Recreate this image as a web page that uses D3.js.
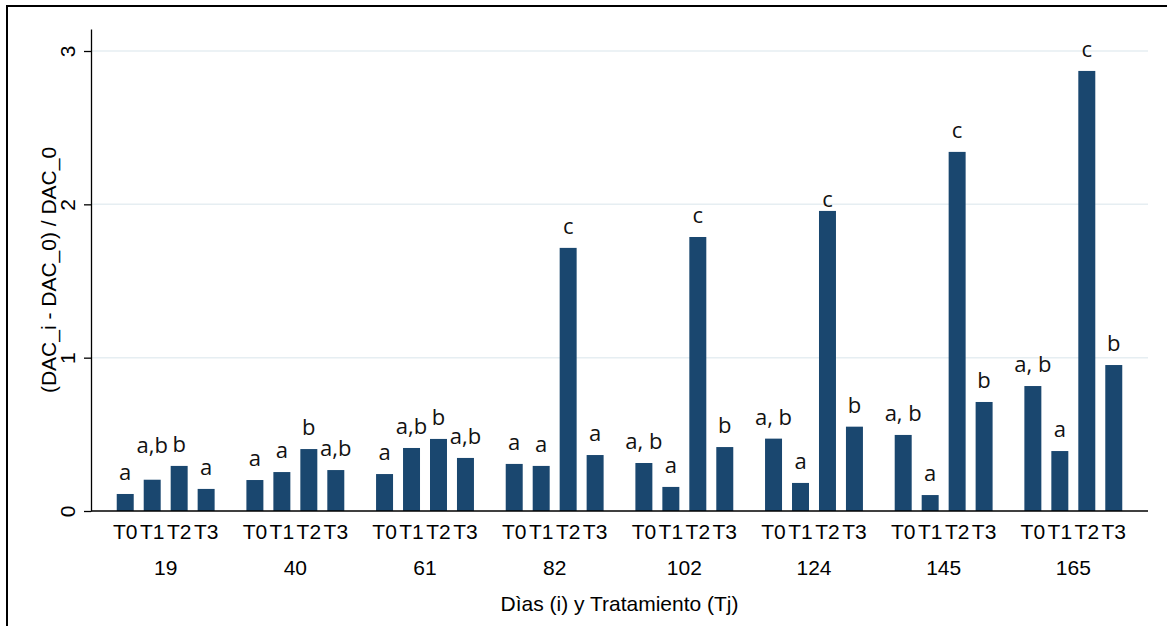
<!DOCTYPE html>
<html>
<head>
<meta charset="utf-8">
<script src="https://cdn.jsdelivr.net/npm/d3@7"></script>
<style>
  html, body { margin: 0; padding: 0; background: #ffffff; }
  svg { display: block; }
</style>
</head>
<body>
<svg id="chart" width="1167" height="626"></svg>
<script>
// ---- data ----
const days = ["19", "40", "61", "82", "102", "124", "145", "165"];
const treatments = ["T0", "T1", "T2", "T3"];
const valuesT0 = [0.111, 0.202, 0.241, 0.307, 0.313, 0.472, 0.496, 0.815];
const valuesT1 = [0.204, 0.254, 0.411, 0.294, 0.157, 0.183, 0.104, 0.391];
const valuesT2 = [0.294, 0.404, 0.470, 1.716, 1.787, 1.957, 2.342, 2.870];
const valuesT3 = [0.144, 0.267, 0.346, 0.365, 0.417, 0.550, 0.711, 0.952];
const lettersT0 = ["a", "a", "a", "a", "a, b", "a, b", "a, b", "a, b"];
const lettersT1 = ["a,b", "a", "a,b", "a", "a", "a", "a", "a"];
const lettersT2 = ["b", "b", "b", "c", "c", "c", "c", "c"];
const lettersT3 = ["a", "a,b", "a,b", "a", "b", "b", "b", "b"];
const yTicks = [0, 1, 2, 3];
const yTitle = "(DAC_i - DAC_0) / DAC_0";
const xTitle = "Dìas (i) y Tratamiento (Tj)";

// label nudges (pixels, layout only)
const labelNudge = { "19|T1": -13, "124|T2": 10 };

const seriesValues = [valuesT0, valuesT1, valuesT2, valuesT3];
const seriesLetters = [lettersT0, lettersT1, lettersT2, lettersT3];
const rows = [];
days.forEach((d, i) => {
  treatments.forEach((t, j) => {
    rows.push({ day: d, trt: t, value: seriesValues[j][i], letter: seriesLetters[j][i] });
  });
});

// ---- layout ----
const svg = d3.select("#chart");
const W = 1167, H = 626;
const plot = { left: 91, right: 1148, top: 29, bottom: 511 };
const barColor = "#1a476f";
const gridColor = "#e6eef2";
const axisFont = "'Liberation Sans', Arial, sans-serif";
const letterFont = "'Open Sans', 'Noto Sans', sans-serif";

svg.append("rect").attr("width", W).attr("height", H).attr("fill", "#fff");
// outer frame (right and bottom edges run off the image)
svg.append("rect")
  .attr("x", 7).attr("y", 6)
  .attr("width", W + 20).attr("height", H + 20)
  .attr("fill", "none").attr("stroke", "#000").attr("stroke-width", 2);

const x0 = d3.scaleBand().domain(days).range([plot.left, plot.right])
  .paddingInner(0.168).paddingOuter(0.16);
const x1 = d3.scaleBand().domain(treatments).range([0, x0.bandwidth()])
  .paddingInner(10 / 27).paddingOuter(5 / 27);
const y = d3.scaleLinear().domain([0, 3.1435]).range([plot.bottom, plot.top]);

// gridlines
svg.append("g").selectAll("line").data(yTicks.filter(v => v > 0)).join("line")
  .attr("x1", plot.left).attr("x2", plot.right)
  .attr("y1", d => y(d)).attr("y2", d => y(d))
  .attr("stroke", gridColor).attr("stroke-width", 1.5);

// bars
svg.append("g").selectAll("rect").data(rows).join("rect")
  .attr("x", d => x0(d.day) + x1(d.trt))
  .attr("width", x1.bandwidth())
  .attr("y", d => y(d.value))
  .attr("height", d => y(0) - y(d.value))
  .attr("fill", barColor);

// letters above bars
svg.append("g").selectAll("text").data(rows).join("text")
  .attr("x", d => x0(d.day) + x1(d.trt) + x1.bandwidth() / 2)
  .attr("y", d => y(d.value) - 14 + (labelNudge[d.day + "|" + d.trt] || 0))
  .attr("text-anchor", "middle")
  .attr("font-family", letterFont)
  .attr("font-size", 22)
  .attr("fill", "#111")
  .text(d => d.letter);

// y axis
const yAxis = svg.append("g").attr("transform", `translate(${plot.left},0)`)
  .call(d3.axisLeft(y).tickValues(yTicks).tickSize(7).tickSizeOuter(0).tickFormat(d3.format("d")));
yAxis.select(".domain").attr("stroke", "#000").attr("stroke-width", 1.3);
yAxis.selectAll(".tick line").attr("stroke", "#000").attr("stroke-width", 1.3);
yAxis.selectAll(".tick text")
  .attr("font-family", axisFont).attr("font-size", 21).attr("fill", "#000")
  .attr("transform", "rotate(-90)")
  .attr("x", 0).attr("y", -16.5).attr("dy", null)
  .attr("text-anchor", "middle");

// x baseline
svg.append("line")
  .attr("x1", plot.left).attr("x2", plot.right)
  .attr("y1", y(0)).attr("y2", y(0))
  .attr("stroke", "#000").attr("stroke-width", 1.3);

// treatment labels under each group
days.forEach(d => {
  const g = svg.append("g").attr("transform", `translate(${x0(d)},${y(0)})`);
  g.call(d3.axisBottom(x1).tickSize(0).tickPadding(0));
  g.select(".domain").remove();
  g.selectAll(".tick text")
    .attr("font-family", axisFont).attr("font-size", 21).attr("fill", "#000")
    .attr("y", 28).attr("dy", null);
});

// day labels
const dayAxis = svg.append("g").attr("transform", `translate(0,${y(0)})`)
  .call(d3.axisBottom(x0).tickSize(0).tickPadding(0));
dayAxis.select(".domain").remove();
dayAxis.selectAll(".tick text")
  .attr("font-family", axisFont).attr("font-size", 21).attr("fill", "#000")
  .attr("y", 64).attr("dy", null);

// axis titles
svg.append("text")
  .attr("x", (plot.left + plot.right) / 2).attr("y", 611)
  .attr("text-anchor", "middle")
  .attr("font-family", axisFont).attr("font-size", 21).attr("fill", "#000")
  .text(xTitle);

svg.append("text")
  .attr("transform", `translate(56,${(plot.top + plot.bottom) / 2}) rotate(-90)`)
  .attr("text-anchor", "middle")
  .attr("font-family", axisFont).attr("font-size", 21).attr("fill", "#000")
  .text(yTitle);
</script>
</body>
</html>
